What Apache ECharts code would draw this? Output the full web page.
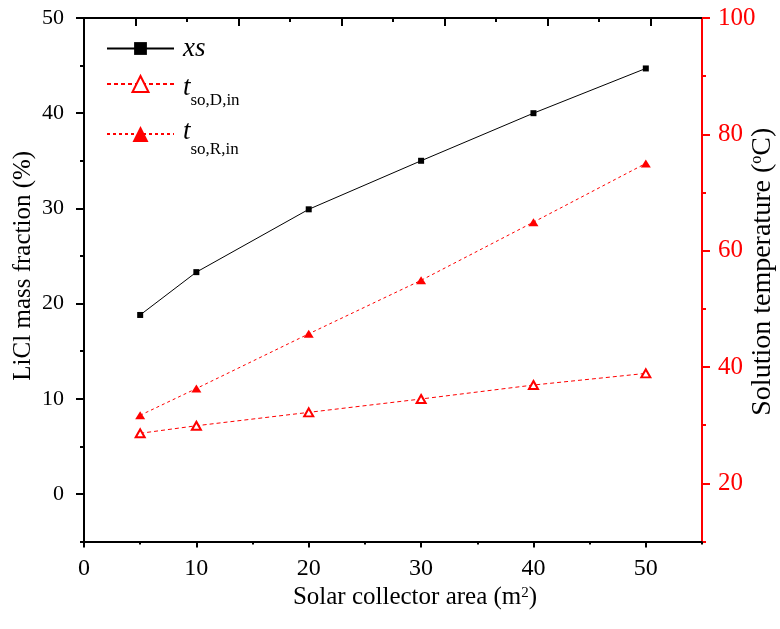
<!DOCTYPE html>
<html>
<head>
<meta charset="utf-8">
<script src="https://cdn.jsdelivr.net/npm/echarts@6/dist/echarts.min.js"></script>
<style>
  html, body { margin: 0; padding: 0; background: #fff; }
  #chart { width: 780px; height: 629px; }
</style>
</head>
<body>
<div id="chart"></div>
<script>
// Solar collector area (m2) on the x axis
const areas = [5, 10, 20, 30, 40, 50];
// LiCl mass fraction (%) – left axis
const xsValues = [18.8, 23.3, 29.9, 35.0, 40.0, 44.7];
// Solution temperatures (°C) – right axis
const tsoDValues = [28.6, 29.9, 32.2, 34.5, 36.9, 38.9];
const tsoRValues = [31.7, 36.3, 45.7, 54.9, 64.9, 75.0];

// Tick positions
const xTicks = [0, 10, 20, 30, 40, 50];
const xMinorTicks = [5, 15, 25, 35, 45, 55];
const leftTicks = [0, 10, 20, 30, 40, 50];
const leftMinorTicks = [-5, 5, 15, 25, 35, 45];
const rightTicks = [20, 40, 60, 80, 100];
const rightMinorTicks = [10, 30, 50, 70, 90];
const topTicks = [0, 1, 2, 3, 4, 5];
const topMinorTicks = [0.5, 1.5, 2.5, 3.5, 4.5];

const FONT = '"Liberation Serif", "Times New Roman", serif';
const RED = '#ff0000';
const BLACK = '#000000';

const chart = echarts.init(document.getElementById('chart'), null, { renderer: 'canvas' });

const pairs = vals => areas.map((a, i) => [a, vals[i]]);

function tickAxis(extra) {
  return Object.assign({
    type: 'value',
    splitLine: { show: false },
    axisLabel: { show: false },
    axisLine: { show: false, onZero: false }
  }, extra);
}

const option = {
  animation: false,
  backgroundColor: '#fff',
  grid: { left: 84, right: 78, top: 18, bottom: 87.5, containLabel: false, outerBoundsMode: 'none' },
  legend: [
    {
      data: ['xs'], left: 106, top: 35, padding: 0, selectedMode: false,
      itemWidth: 67, itemHeight: 16,
      formatter: () => '{v|xs}',
      textStyle: { rich: { v: { fontFamily: FONT, fontSize: 27, fontStyle: 'italic', color: BLACK, padding: [0, 0, 0, 4] } } }
    },
    {
      data: ['tsoD'], left: 106, top: 74.5, padding: 0, selectedMode: false,
      itemWidth: 67, itemHeight: 20,
      formatter: () => '{t|t}{s|so,D,in}',
      textStyle: { rich: {
        t: { fontFamily: FONT, fontSize: 27, fontStyle: 'italic', color: BLACK, verticalAlign: 'top', padding: [16, 0, 0, 4] },
        s: { fontFamily: FONT, fontSize: 17, color: BLACK, verticalAlign: 'top', padding: [34, 0, 0, 0] }
      } }
    },
    {
      data: ['tsoR'], left: 106, top: 118.5, padding: 0, selectedMode: false,
      itemWidth: 67, itemHeight: 20,
      formatter: () => '{t|t}{s|so,R,in}',
      textStyle: { rich: {
        t: { fontFamily: FONT, fontSize: 27, fontStyle: 'italic', color: BLACK, verticalAlign: 'top', padding: [9, 0, 0, 4] },
        s: { fontFamily: FONT, fontSize: 17, color: BLACK, verticalAlign: 'top', padding: [32, 0, 0, 0] }
      } }
    }
  ],
  xAxis: [
    {
      type: 'value', position: 'bottom', min: 0, max: 55,
      axisLine: { onZero: false, lineStyle: { color: BLACK, width: 2 } },
      axisTick: { customValues: xTicks, length: 6, lineStyle: { color: BLACK, width: 2 } },
      axisLabel: { customValues: xTicks, margin: 15, fontFamily: FONT, fontSize: 24, color: BLACK },
      splitLine: { show: false },
      name: 'Solar collector area (m{sup|2})',
      nameLocation: 'middle', nameGap: 42,
      nameTextStyle: {
        fontFamily: FONT, fontSize: 25, color: BLACK, padding: [0, 0, 0, 44],
        rich: { sup: { fontFamily: FONT, fontSize: 15, color: BLACK, verticalAlign: 'top' } }
      }
    },
    tickAxis({ position: 'bottom', min: 0, max: 55,
      axisTick: { customValues: xMinorTicks, length: 3, lineStyle: { color: BLACK, width: 2 } } }),
    {
      type: 'value', position: 'top', min: -0.5, max: 5.5,
      axisLine: { onZero: false, lineStyle: { color: BLACK, width: 2 } },
      axisTick: { inside: true, customValues: topTicks, length: 8, lineStyle: { color: BLACK, width: 2 } },
      axisLabel: { show: false },
      splitLine: { show: false }
    },
    tickAxis({ position: 'top', min: -0.5, max: 5.5,
      axisTick: { inside: true, customValues: topMinorTicks, length: 4, lineStyle: { color: BLACK, width: 2 } } })
  ],
  yAxis: [
    {
      type: 'value', position: 'left', min: -5, max: 50,
      axisLine: { onZero: false, lineStyle: { color: BLACK, width: 2 } },
      axisTick: { customValues: leftTicks, length: 8, lineStyle: { color: BLACK, width: 2 } },
      axisLabel: { customValues: leftTicks, margin: 20, fontFamily: FONT, fontSize: 22, color: BLACK },
      splitLine: { show: false },
      name: 'LiCl mass fraction (%)',
      nameLocation: 'middle', nameGap: 48, nameRotate: 90, nameMoveOverlap: false,
      nameTextStyle: { fontFamily: FONT, fontSize: 25, color: BLACK, padding: [0, 0, 0, 28] }
    },
    {
      type: 'value', position: 'right', min: 10, max: 100,
      axisLine: { onZero: false, lineStyle: { color: RED, width: 2 } },
      axisTick: { customValues: rightTicks, length: 8, lineStyle: { color: RED, width: 2 } },
      axisLabel: { customValues: rightTicks, margin: 16, fontFamily: FONT, fontSize: 25, color: RED },
      splitLine: { show: false },
      name: 'Solution temperature ({sup|o}C)',
      nameLocation: 'middle', nameGap: 47, nameRotate: 90, nameMoveOverlap: false,
      nameTextStyle: {
        fontFamily: FONT, fontSize: 28, color: BLACK, padding: [0, 0, 0, 16],
        rich: { sup: { fontFamily: FONT, fontSize: 16, color: BLACK, verticalAlign: 'top' } }
      }
    },
    tickAxis({ position: 'left', min: -5, max: 50,
      axisTick: { customValues: leftMinorTicks, length: 4, lineStyle: { color: BLACK, width: 2 } } }),
    tickAxis({ position: 'right', min: 10, max: 100,
      axisTick: { customValues: rightMinorTicks, length: 4, lineStyle: { color: RED, width: 2 } } })
  ],
  series: [
    {
      name: 'xs', type: 'line', xAxisIndex: 0, yAxisIndex: 0,
      data: pairs(xsValues),
      symbol: 'rect', symbolSize: 6,
      itemStyle: { color: BLACK },
      lineStyle: { color: BLACK, width: 1 },
      z: 3
    },
    {
      name: 'tsoD', type: 'line', xAxisIndex: 0, yAxisIndex: 1,
      data: pairs(tsoDValues),
      symbol: 'emptyTriangle', symbolSize: [9, 8],
      itemStyle: { color: RED, borderColor: RED, borderWidth: 1.2 },
      lineStyle: { color: RED, width: 1, type: [4, 3] },
      z: 2
    },
    {
      name: 'tsoR', type: 'line', xAxisIndex: 0, yAxisIndex: 1,
      data: pairs(tsoRValues),
      symbol: 'triangle', symbolSize: [10, 8],
      itemStyle: { color: RED },
      lineStyle: { color: RED, width: 1, type: [3, 3] },
      z: 2
    }
  ]
};

chart.setOption(option);
</script>
</body>
</html>
